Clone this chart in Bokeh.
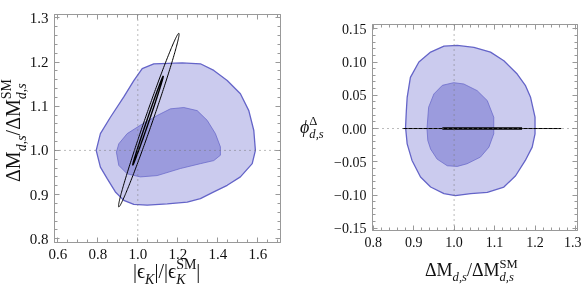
import numpy as np
from math import pi
from bokeh.plotting import figure
from bokeh.models import LinearAxis, FixedTicker, CustomJSTickFormatter, Span, Range1d, Div
from bokeh.layouts import row, column
from bokeh.embed import file_html
from bokeh.resources import INLINE

# ---------------- data ----------------
# left panel: |eps_K|/|eps_K^SM| vs DeltaM/DeltaM^SM
left_outer_x = [0.792, 0.813, 0.863, 0.930, 0.980, 1.022, 1.080, 1.222, 1.313, 1.380, 1.447, 1.513,
                1.555, 1.580, 1.588, 1.572, 1.513, 1.447, 1.380, 1.313, 1.247, 1.147, 1.047, 0.980,
                0.930, 0.888, 0.847, 0.813]
left_outer_y = [1.000, 1.038, 1.075, 1.121, 1.158, 1.185, 1.196, 1.198, 1.196, 1.181, 1.158, 1.128,
                1.090, 1.045, 1.000, 0.970, 0.940, 0.921, 0.906, 0.891, 0.883, 0.879, 0.876, 0.878,
                0.887, 0.906, 0.936, 0.962]
left_inner_x = [0.893, 0.905, 0.947, 1.013, 1.097, 1.163, 1.230, 1.297, 1.347, 1.388, 1.413, 1.413,
                1.380, 1.313, 1.213, 1.097, 1.013, 0.947, 0.905]
left_inner_y = [0.996, 1.015, 1.038, 1.057, 1.079, 1.094, 1.097, 1.090, 1.068, 1.038, 1.008, 0.989,
                0.977, 0.970, 0.959, 0.943, 0.940, 0.947, 0.966]
# ellipses: end points of the long axis and horizontal half width
ell_outer_ends = [(0.905, 0.872), (1.205, 1.265)]
ell_outer_halfwidth = 0.021
ell_inner_ends = [(0.975, 0.967), (1.127, 1.168)]
ell_inner_halfwidth = 0.006

# right panel: DeltaM/DeltaM^SM vs phi^Delta
right_outer_x = [0.884, 0.892, 0.913, 0.942, 0.975, 1.008, 1.049, 1.090, 1.123, 1.156, 1.176, 1.189,
                 1.200, 1.200, 1.193, 1.176, 1.152, 1.123, 1.082, 1.041, 1.003, 0.975, 0.942, 0.917,
                 0.896, 0.884, 0.880, 0.882]
right_outer_y = [0.047, 0.077, 0.100, 0.115, 0.124, 0.125, 0.122, 0.115, 0.102, 0.082, 0.065, 0.047,
                 0.017, -0.008, -0.028, -0.048, -0.071, -0.088, -0.096, -0.098, -0.101, -0.098, -0.088,
                 -0.073, -0.048, -0.023, 0.002, 0.027]
right_inner_x = [0.933, 0.937, 0.950, 0.971, 0.999, 1.024, 1.057, 1.082, 1.098, 1.098, 1.086, 1.065,
                 1.032, 1.008, 0.983, 0.958, 0.942, 0.935]
right_inner_y = [0.000, 0.032, 0.052, 0.065, 0.069, 0.067, 0.057, 0.042, 0.017, -0.008, -0.028, -0.043,
                 -0.053, -0.057, -0.056, -0.046, -0.031, -0.018]
thin_line_x = [0.873, 1.265]
thick_line_x = [0.971, 1.168]
line_phi = [0.0, 0.0]

left_xticks = [0.6, 0.8, 1.0, 1.2, 1.4, 1.6]
left_yticks = [0.8, 0.9, 1.0, 1.1, 1.2, 1.3]
right_xticks = [0.8, 0.9, 1.0, 1.1, 1.2, 1.3]
right_yticks = [-0.15, -0.10, -0.05, 0.0, 0.05, 0.10, 0.15]

# ---------------- styling ----------------
FONT = "Liberation Serif"
OUTER_FILL = "#cbcbee"
INNER_FILL = "#9b9bdd"
EDGE = "#6464c8"
FRAME = "#999999"
BORDER_TOP = 20


def style_axes(p, xt, yt, xminor, yminor, xfmt, yfmt, fsize):
    bottom = p.below[0]
    left = p.left[0]
    xtick = FixedTicker(ticks=xt, minor_ticks=xminor)
    ytick = FixedTicker(ticks=yt, minor_ticks=yminor)
    bottom.ticker = xtick
    left.ticker = ytick
    bottom.formatter = CustomJSTickFormatter(code=xfmt)
    left.formatter = CustomJSTickFormatter(code=yfmt)
    top = LinearAxis(ticker=xtick, formatter=CustomJSTickFormatter(code="return ''"),
                     major_label_standoff=0, major_label_text_font_size="1px")
    right = LinearAxis(ticker=ytick, formatter=CustomJSTickFormatter(code="return ''"),
                       major_label_standoff=0, major_label_text_font_size="1px")
    p.add_layout(top, "above")
    p.add_layout(right, "right")
    for ax in [bottom, left, top, right]:
        ax.axis_line_color = FRAME
        ax.major_tick_line_color = FRAME
        ax.minor_tick_line_color = FRAME
        ax.major_tick_in = 5
        ax.major_tick_out = 0
        ax.minor_tick_in = 3
        ax.minor_tick_out = 0
    for ax in [bottom, left]:
        ax.major_label_text_font = FONT
        ax.major_label_text_font_size = fsize
        ax.major_label_text_color = "#111111"
        ax.major_label_standoff = 6
    p.xgrid.visible = False
    p.ygrid.visible = False
    p.outline_line_color = FRAME


def ellipse_pts(ends, hw):
    (x1, y1), (x2, y2) = ends
    cx, cy = (x1 + x2) / 2, (y1 + y2) / 2
    ux, uy = (x2 - x1) / 2, (y2 - y1) / 2
    t = np.linspace(0, 2 * pi, 240)
    return cx + ux * np.cos(t) + hw * np.sin(t), cy + uy * np.cos(t)


# ---------------- left figure (frame at page x 54, y 14) ----------------
p1 = figure(frame_width=226, frame_height=228, output_backend="svg", toolbar_location=None,
            x_range=Range1d(0.5835, 1.7135), y_range=Range1d(0.7916, 1.3075),
            min_border_left=46, min_border_right=10, min_border_top=BORDER_TOP, min_border_bottom=50,
            styles={"position": "fixed", "left": "8px", "top": f"{14 - BORDER_TOP}px"})
style_axes(p1, left_xticks, left_yticks,
           list(np.round(np.arange(0.55, 1.75, 0.05), 3)), list(np.round(np.arange(0.78, 1.32, 0.02), 3)),
           "return tick.toFixed(1)", "return tick.toFixed(1)", "15px")
p1.patch(left_outer_x, left_outer_y, fill_color=OUTER_FILL, line_color=EDGE, line_width=1.3)
p1.patch(left_inner_x, left_inner_y, fill_color=INNER_FILL, line_color=EDGE, line_width=1.0, line_alpha=0.7)
p1.add_layout(Span(location=1.0, dimension="height", line_color="#777777", line_dash="1 4", line_width=1))
p1.add_layout(Span(location=1.0, dimension="width", line_color="#777777", line_dash="1 4", line_width=1))
ex, ey = ellipse_pts(ell_outer_ends, ell_outer_halfwidth)
p1.line(ex, ey, line_color="black", line_width=1.0)
ex, ey = ellipse_pts(ell_inner_ends, ell_inner_halfwidth)
p1.line(ex, ey, line_color="black", line_width=1.4)

# ---------------- right figure (frame at page x 372, y 24) ----------------
p2 = figure(frame_width=205, frame_height=206, output_backend="svg", toolbar_location=None,
            x_range=Range1d(0.7983, 1.305), y_range=Range1d(-0.1534, 0.1565),
            min_border_left=82, min_border_right=4, min_border_top=BORDER_TOP, min_border_bottom=50,
            styles={"position": "fixed", "left": "290px", "top": f"{24 - BORDER_TOP}px"})
style_axes(p2, right_xticks, right_yticks,
           list(np.round(np.arange(0.78, 1.32, 0.02), 3)), list(np.round(np.arange(-0.16, 0.165, 0.01), 3)),
           "return tick.toFixed(1)", "return tick.toFixed(2).replace('-', '\u2212')", "14px")
p2.patch(right_outer_x, right_outer_y, fill_color=OUTER_FILL, line_color=EDGE, line_width=1.3)
p2.patch(right_inner_x, right_inner_y, fill_color=INNER_FILL, line_color=EDGE, line_width=1.0, line_alpha=0.7)
p2.add_layout(Span(location=1.0, dimension="height", line_color="#777777", line_dash="1 4", line_width=1))
p2.add_layout(Span(location=0.0, dimension="width", line_color="#777777", line_dash="1 4", line_width=1))
p2.line(thin_line_x, line_phi, line_color="black", line_width=1.0)
p2.line(thick_line_x, line_phi, line_color="black", line_width=2.6)

# ---------------- axis labels (HTML, with sub/superscripts), placed on the page ----------------


def sub(t):
    return f'<span style="font-size:0.7em;position:relative;top:0.4em"><i>{t}</i></span>'


def stack(sup_t, sub_t):
    return ('<span style="display:inline-flex;flex-direction:column;font-size:0.7em;line-height:1.1;'
            f'position:relative;top:-0.66em"><span>{sup_t}</span><span><i>{sub_t}</i></span></span>')


def label(html, x, base, size, rotate=False):
    if rotate:   # x = baseline position, base = start of the text (bottom)
        left, top = x - 0.8375 * size, base
        extra = "transform:rotate(-90deg);transform-origin:0 0;"
    else:
        left, top = x, base - 0.8375 * size
        extra = ""
    return (f'<span style="position:fixed;left:{left:.1f}px;top:{top:.1f}px;font-size:{size}px;'
            f"line-height:1;white-space:nowrap;font-family:'Liberation Serif',serif;color:#111;"
            f'z-index:10;{extra}">{html}</span>')


texts = [
    label(f'|ϵ{sub("K")}|/|ϵ{stack("SM", "K")}|', 133, 278, 20),
    label(f'ΔM{sub("d,s")}/ΔM{stack("SM", "d,s")}', 20, 182, 20, rotate=True),
    label(f'ΔM{sub("d,s")}/ΔM{stack("SM", "d,s")}', 425, 276, 18),
    label(f'<i>ϕ</i>{stack("Δ", "d,s")}', 300, 133, 18),
]
labels = Div(text="".join(texts), width=1, height=1,
             styles={"overflow": "visible", "position": "fixed", "left": "0px", "top": "0px", "z-index": "10"})

layout = column(row(p1, p2), labels)
open("out.html", "w").write(file_html(layout, INLINE))
